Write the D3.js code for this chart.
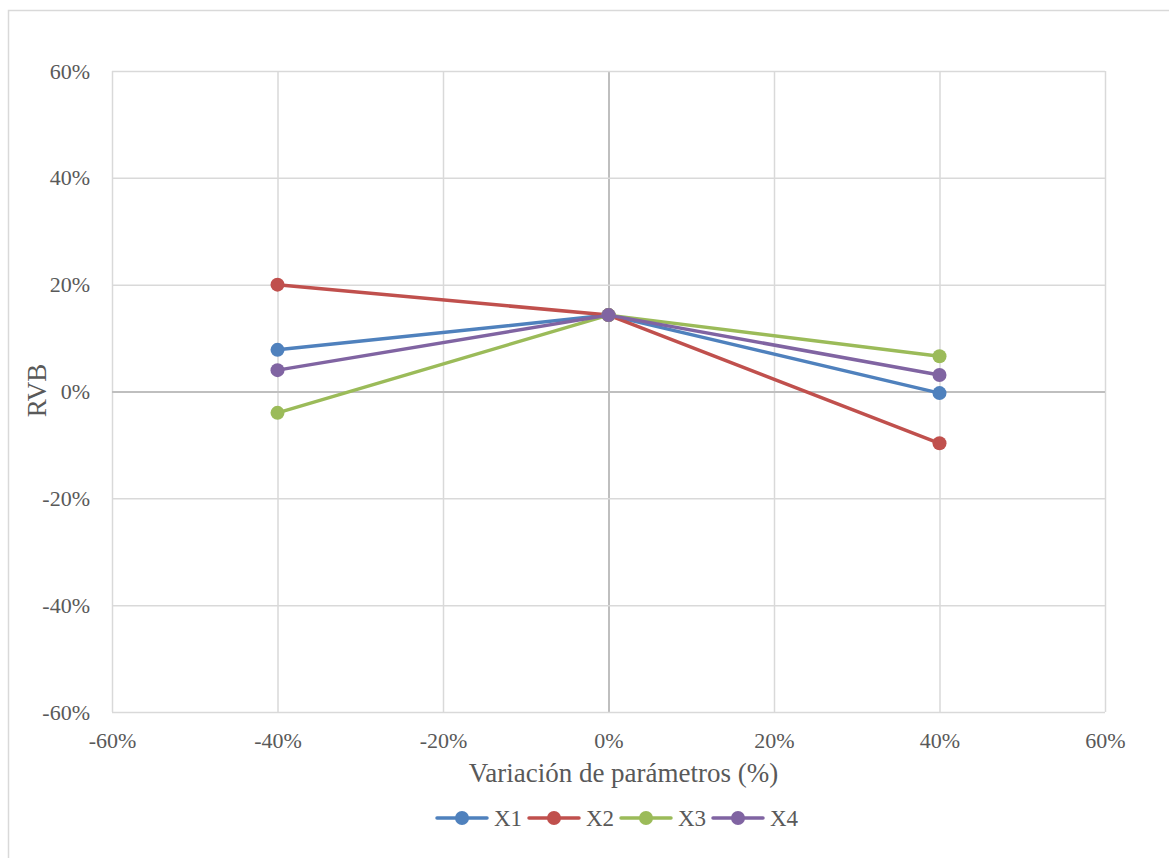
<!DOCTYPE html>
<html>
<head>
<meta charset="utf-8">
<script src="https://cdn.jsdelivr.net/npm/d3@7"></script>
<style>
  html, body { margin: 0; padding: 0; background: #fff; }
  svg { display: block; }
</style>
</head>
<body>
<svg id="chart" width="1169" height="858"></svg>
<script>
// Parameter variation levels (x) and RVB response per parameter (y), in %
const variations = [-40, 0, 40];
const seriesNames = ["X1", "X2", "X3", "X4"];
const seriesColors = ["#4F81BD", "#C0504D", "#9BBB59", "#8064A2"];
const x1Values = [7.8, 14.3, -0.3];
const x2Values = [20.0, 14.3, -9.7];
const x3Values = [-4.0, 14.3, 6.6];
const x4Values = [4.0, 14.3, 3.1];
const xTicks = [-60, -40, -20, 0, 20, 40, 60];
const yTicks = [-60, -40, -20, 0, 20, 40, 60];

const seriesValues = [x1Values, x2Values, x3Values, x4Values];
const FONT = "'Liberation Serif', 'Times New Roman', Times, 'DejaVu Serif', serif";
const TEXT_COLOR = "#595959";

const svg = d3.select("#chart");

// chart frame
svg.append("rect")
  .attr("x", 8.5).attr("y", 10.5)
  .attr("width", 1200).attr("height", 900)
  .attr("fill", "#fff").attr("stroke", "#d9d9d9").attr("stroke-width", 1.5);

const plot = { left: 112, right: 1105, top: 71, bottom: 712 };

const x = d3.scaleLinear().domain([-60, 60]).range([plot.left, plot.right]);
const y = d3.scaleLinear().domain([-60, 60]).range([plot.bottom, plot.top]);

const fmt = d => d + "%";

// vertical gridlines + x tick labels
const xAxis = d3.axisBottom(x).tickValues(xTicks).tickFormat(fmt)
  .tickSize(-(plot.bottom - plot.top)).tickPadding(20);
const gx = svg.append("g").attr("transform", `translate(0,${plot.bottom})`).call(xAxis);
gx.attr("font-family", FONT).attr("font-size", 22);
gx.select(".domain").remove();
gx.selectAll("line")
  .attr("stroke", d => d === 0 ? "#bfbfbf" : "#d9d9d9")
  .attr("stroke-width", d => d === 0 ? 2 : 1.5);
gx.selectAll("text").attr("fill", TEXT_COLOR);

// horizontal gridlines + y tick labels
const yAxis = d3.axisLeft(y).tickValues(yTicks).tickFormat(fmt)
  .tickSize(-(plot.right - plot.left)).tickPadding(22);
const gy = svg.append("g").attr("transform", `translate(${plot.left},0)`).call(yAxis);
gy.attr("font-family", FONT).attr("font-size", 22);
gy.select(".domain").remove();
gy.selectAll("line")
  .attr("stroke", d => d === 0 ? "#bfbfbf" : "#d9d9d9")
  .attr("stroke-width", d => d === 0 ? 2 : 1.5);
gy.selectAll("text").attr("fill", TEXT_COLOR);

// axis titles
svg.append("text")
  .attr("x", (plot.left + plot.right) / 2 + 15).attr("y", 782)
  .attr("text-anchor", "middle")
  .attr("font-family", FONT).attr("font-size", 27).attr("fill", TEXT_COLOR)
  .text("Variación de parámetros (%)");
svg.append("text")
  .attr("transform", `translate(46,${(plot.top + plot.bottom) / 2 - 1}) rotate(-90)`)
  .attr("text-anchor", "middle")
  .attr("font-family", FONT).attr("font-size", 27).attr("fill", TEXT_COLOR)
  .text("RVB");

// series lines and markers
const line = d3.line().x((d, i) => x(variations[i])).y(d => y(d));
seriesValues.forEach((vals, si) => {
  const g = svg.append("g");
  g.append("path").datum(vals)
    .attr("d", line).attr("fill", "none")
    .attr("stroke", seriesColors[si]).attr("stroke-width", 3.5)
    .attr("stroke-linejoin", "round").attr("stroke-linecap", "round");
  g.selectAll("circle").data(vals).join("circle")
    .attr("cx", (d, i) => x(variations[i])).attr("cy", d => y(d))
    .attr("r", 7).attr("fill", seriesColors[si]);
});

// legend
const legendStart = [437, 529, 621, 713];
const legend = svg.append("g");
seriesNames.forEach((name, i) => {
  const lx = legendStart[i];
  const ly = 818;
  legend.append("line")
    .attr("x1", lx).attr("x2", lx + 50).attr("y1", ly).attr("y2", ly)
    .attr("stroke", seriesColors[i]).attr("stroke-width", 3.5).attr("stroke-linecap", "round");
  legend.append("circle").attr("cx", lx + 25).attr("cy", ly).attr("r", 7).attr("fill", seriesColors[i]);
  legend.append("text").attr("x", lx + 57).attr("y", ly + 8)
    .attr("font-family", FONT).attr("font-size", 23).attr("fill", TEXT_COLOR)
    .text(name);
});
</script>
</body>
</html>
